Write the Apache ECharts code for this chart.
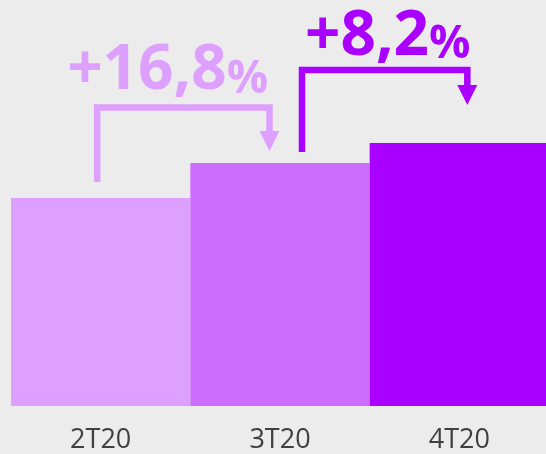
<!DOCTYPE html>
<html>
<head>
<meta charset="utf-8">
<script src="https://cdn.jsdelivr.net/npm/echarts@6/dist/echarts.min.js"></script>
<style>
  html, body { margin: 0; padding: 0; background: #ececec; }
  #chart { width: 546px; height: 454px; }
</style>
</head>
<body>
<div id="chart"></div>
<script>
// trimestres
const quarters = ['2T20', '3T20', '4T20']
// valores relativos (2T20 = 100)
const values = [100, 116.8, 126.4]
// variação entre trimestres consecutivos
const changes = ['+16,8', '+8,2']

const barColors = ['#dea0fe', '#cc6dfe', '#aa00ff']
const arrowColors = ['#dea0fe', '#aa00ff']

// ajustes de posição das setas (px), só estilo
const bracketLayout = [
  { dxA: -3.5, dxB: -10.5, legGap: 16, topGap: 90.5, tipGap: 12, textDx: -30, textDy: -5 },
  { dxA: 22, dxB: 8, legGap: 11, topGap: 93, tipGap: 38, textDx: 3, textDy: -2 }
]

const chart = echarts.init(document.getElementById('chart'))

chart.setOption({
  backgroundColor: '#ececec',
  animation: false,
  grid: { left: 11, width: 538, top: 94, bottom: 48, outerBoundsMode: 'none', containLabel: false },
  xAxis: {
    type: 'category',
    data: quarters,
    axisLine: { show: false },
    axisTick: { show: false },
    axisLabel: {
      color: '#404040',
      fontFamily: 'Open Sans',
      fontSize: 27,
      margin: 21
    }
  },
  yAxis: {
    type: 'value',
    min: 0,
    max: 150,
    show: false,
    splitLine: { show: false }
  },
  series: [
    {
      type: 'bar',
      barWidth: '100%',
      data: values.map((v, i) => ({ value: v, itemStyle: { color: barColors[i] } }))
    },
    {
      type: 'custom',
      data: changes.map((c, i) => [i, i + 1]),
      renderItem: (params, api) => {
        const i = params.dataIndex
        const L = bracketLayout[i]
        const col = arrowColors[i]
        const pA = api.coord([i, values[i]])
        const pB = api.coord([i + 1, values[i + 1]])
        const xa = pA[0] + L.dxA
        const xb = pB[0] + L.dxB
        const yLeg = pA[1] - L.legGap
        const yTop = pA[1] - L.topGap
        const yTip = pB[1] - L.tipGap
        const head = 20
        return {
          type: 'group',
          children: [
            {
              type: 'polyline',
              shape: { points: [[xa, yLeg], [xa, yTop], [xb, yTop], [xb, yTip - head + 1]] },
              style: { stroke: col, lineWidth: 6.5, fill: null, lineJoin: 'miter' }
            },
            {
              type: 'polygon',
              shape: { points: [[xb - 10, yTip - head], [xb + 10, yTip - head], [xb, yTip]] },
              style: { fill: col }
            },
            {
              type: 'text',
              x: xa + L.textDx,
              y: yTop + L.textDy,
              style: {
                text: '{n|' + changes[i] + '}{p|%}',
                align: 'left',
                verticalAlign: 'bottom',
                fill: col,
                rich: {
                  n: { fontFamily: 'Open Sans', fontWeight: 'bold', fontSize: 62, lineHeight: 62, verticalAlign: 'bottom' },
                  p: { fontFamily: 'Open Sans', fontWeight: 'bold', fontSize: 46, lineHeight: 62, verticalAlign: 'bottom' }
                }
              }
            }
          ]
        }
      }
    }
  ]
})
</script>
</body>
</html>
